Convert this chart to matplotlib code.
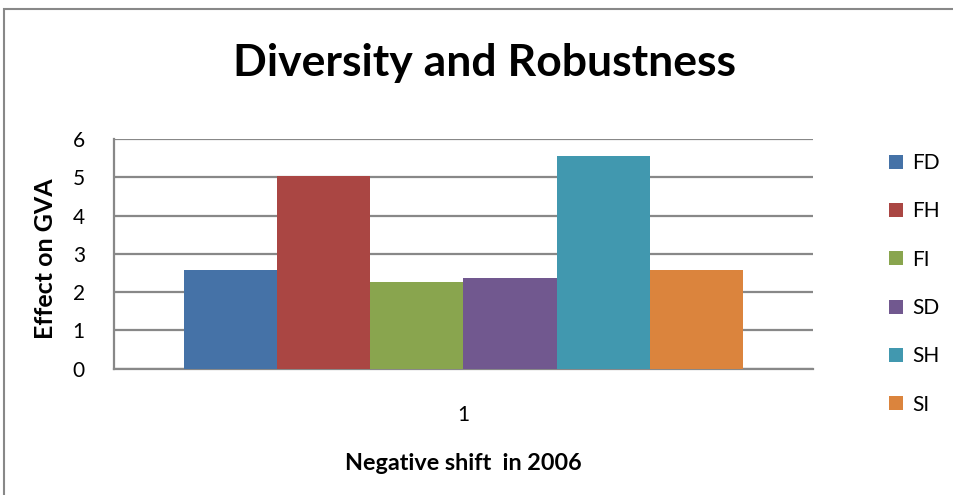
import matplotlib
matplotlib.use("Agg")
import matplotlib.pyplot as plt
from matplotlib.patches import Rectangle

plt.rcParams["font.family"] = ["Lato", "DejaVu Sans"]

series = ["FD", "FH", "FI", "SD", "SH", "SI"]
values = [2.58, 5.03, 2.26, 2.37, 5.56, 2.58]
colors = ["#4572A7", "#AA4643", "#89A54E", "#71588F", "#4198AF", "#DB843D"]
category = 1
yticks = [0, 1, 2, 3, 4, 5, 6]

GRID = "#888888"

fig = plt.figure(figsize=(9.54, 4.95), dpi=100)
ax = fig.add_axes([0.1195, 0.2552, 0.7324, 0.464])

n = len(series)
width = 0.8 / n
for i, (name, val, col) in enumerate(zip(series, values, colors)):
    x = category - 0.4 + width * (i + 0.5)
    ax.bar(x, val, width=width, color=col, label=name, zorder=3)

ax.set_xlim(category - 0.5, category + 0.5)
ax.set_ylim(0, 6)
ax.set_yticks(yticks)
ax.set_xticks([category])
ax.set_xticklabels([str(category)])
ax.tick_params(length=0, labelsize=15)
ax.tick_params(axis="y", pad=21)
ax.tick_params(axis="x", pad=26)

ax.yaxis.grid(True, color=GRID, linewidth=1.6, zorder=0)
ax.set_axisbelow(True)
for side in ("top", "right"):
    ax.spines[side].set_visible(False)
for side in ("left", "bottom"):
    ax.spines[side].set_color(GRID)
    ax.spines[side].set_linewidth(1.6)

ax.set_ylabel("Effect on GVA", fontsize=18, fontweight="bold")
ax.yaxis.set_label_coords(-0.082, 0.48)
ax.set_xlabel("Negative shift  in 2006", fontsize=16.8, fontweight="bold", labelpad=20)

fig.text(0.508, 0.873, "Diversity and Robustness", ha="center", va="center",
         fontsize=32, fontweight="bold")

ax.legend(loc="upper left", bbox_to_anchor=(0.921, 0.712), bbox_transform=fig.transFigure,
          frameon=False, fontsize=15, handlelength=0.67, handleheight=0.67,
          handletextpad=0.45, labelspacing=1.36, borderpad=0)

# chart-area frame
fig.patches.append(Rectangle((4 / 954, -0.1), 1.5, 1 - 9 / 495 + 0.1,
                             transform=fig.transFigure, fill=False,
                             edgecolor=GRID, linewidth=1.5))

fig.savefig("out.png", dpi=100)
